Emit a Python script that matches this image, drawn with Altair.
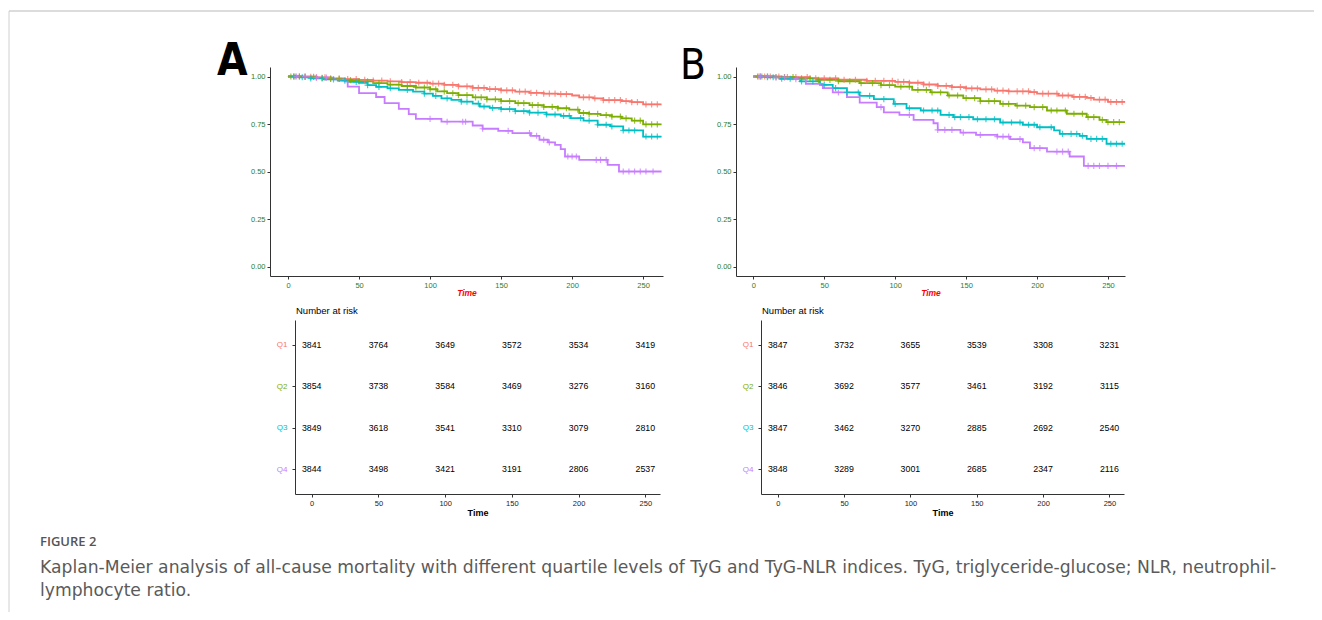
import altair as alt
import numpy as np
import pandas as pd

GROUPS = ["Q1", "Q2", "Q3", "Q4"]
COLORS = ["#F8766D", "#7CAE00", "#00BFC4", "#C77CFF"]
RISK_TIMES = [0, 50, 100, 150, 200, 250]

# ---------------- Panel A (TyG) survival steps ----------------
a_q1_t = [0, 10, 20, 30, 40, 50, 60, 70, 80, 90, 100, 110, 120, 130, 140, 150, 160, 170, 180, 190, 200, 205, 215, 222, 235, 242, 250, 263]
a_q1_s = [1.0, 0.998, 0.995, 0.99, 0.986, 0.982, 0.978, 0.974, 0.97, 0.967, 0.963, 0.956, 0.948, 0.94, 0.934, 0.927, 0.92, 0.914, 0.91, 0.907, 0.9, 0.89, 0.885, 0.876, 0.87, 0.865, 0.853, 0.853]
a_q2_t = [0, 10, 20, 30, 40, 50, 60, 70, 80, 90, 100, 105, 112, 120, 130, 140, 150, 160, 170, 180, 190, 198, 205, 212, 220, 228, 235, 242, 250, 263]
a_q2_s = [1.0, 0.998, 0.993, 0.987, 0.981, 0.974, 0.965, 0.957, 0.95, 0.942, 0.933, 0.922, 0.912, 0.902, 0.89, 0.88, 0.87, 0.86, 0.849, 0.84, 0.833, 0.826, 0.808, 0.803, 0.797, 0.789, 0.78, 0.768, 0.748, 0.748]
a_q3_t = [0, 8, 16, 25, 35, 42, 50, 56, 62, 70, 78, 88, 96, 102, 108, 115, 122, 130, 135, 142, 150, 160, 170, 182, 192, 199, 208, 218, 227, 236, 250, 263]
a_q3_s = [1.0, 0.996, 0.99, 0.985, 0.978, 0.972, 0.967, 0.955, 0.945, 0.938, 0.93, 0.92, 0.91, 0.898, 0.885, 0.877, 0.868, 0.857, 0.842, 0.835, 0.828, 0.818, 0.81, 0.8, 0.793, 0.781, 0.768, 0.746, 0.737, 0.716, 0.684, 0.684]
a_q4_t = [0, 20, 32, 40, 42, 50, 62, 68, 78, 85, 90, 108, 130, 137, 148, 158, 171, 177, 183, 188, 192, 195, 205, 225, 233, 263]
a_q4_s = [1.0, 0.994, 0.985, 0.974, 0.947, 0.912, 0.892, 0.86, 0.83, 0.802, 0.777, 0.762, 0.742, 0.725, 0.714, 0.702, 0.688, 0.667, 0.653, 0.64, 0.618, 0.579, 0.561, 0.535, 0.5, 0.5]

# censoring times (panel A)
a_q1_c = [4, 8, 12, 16, 20, 26, 30, 36, 42, 48, 54, 60, 66, 72, 80, 86, 92, 98, 102, 106, 110, 116, 120, 126, 130, 134, 138, 142, 146, 150, 154, 158, 163, 167, 171, 175, 180, 184, 188, 192, 196, 208, 212, 216, 222, 226, 230, 234, 238, 242, 246, 252, 256, 260]
a_q2_c = [2, 5, 8, 12, 18, 24, 30, 36, 44, 50, 56, 64, 72, 78, 84, 90, 96, 100, 104, 110, 116, 120, 126, 132, 136, 140, 146, 150, 156, 162, 166, 172, 176, 180, 186, 190, 196, 204, 208, 212, 218, 224, 228, 234, 238, 244, 248, 252, 256, 260]
a_q3_c = [4, 10, 16, 24, 32, 40, 48, 56, 64, 72, 84, 96, 104, 112, 122, 126, 134, 138, 144, 150, 156, 160, 166, 170, 176, 182, 188, 194, 198, 206, 212, 218, 224, 228, 236, 240, 244, 252, 256, 260]
a_q4_c = [6, 12, 20, 27, 100, 112, 123, 125, 137, 155, 170, 175, 180, 184, 197, 200, 203, 217, 220, 224, 236, 240, 244, 248, 252, 257]

# ---------------- Panel B (TyG-NLR) survival steps ----------------
b_q1_t = [0, 20, 40, 60, 80, 100, 110, 120, 130, 140, 150, 160, 170, 180, 195, 200, 215, 225, 235, 240, 250, 262]
b_q1_s = [1.0, 0.997, 0.99, 0.983, 0.977, 0.972, 0.967, 0.958, 0.951, 0.944, 0.937, 0.932, 0.926, 0.922, 0.918, 0.91, 0.9, 0.893, 0.887, 0.878, 0.866, 0.866]
b_q2_t = [0, 15, 30, 45, 60, 75, 90, 100, 112, 125, 137, 148, 160, 174, 185, 195, 207, 221, 235, 244, 249, 262]
b_q2_s = [1.0, 0.997, 0.99, 0.982, 0.975, 0.965, 0.955, 0.947, 0.93, 0.916, 0.9, 0.886, 0.87, 0.856, 0.847, 0.839, 0.821, 0.804, 0.786, 0.772, 0.76, 0.76]
b_q3_t = [0, 10, 19, 33, 47, 56, 66, 75, 85, 99, 108, 118, 132, 141, 155, 174, 190, 200, 212, 216, 230, 235, 249, 262]
b_q3_s = [1.0, 0.996, 0.988, 0.974, 0.956, 0.939, 0.916, 0.898, 0.881, 0.856, 0.833, 0.821, 0.798, 0.786, 0.775, 0.758, 0.746, 0.733, 0.716, 0.698, 0.688, 0.672, 0.646, 0.646]
b_q4_t = [0, 15, 26, 37, 49, 56, 66, 75, 87, 92, 103, 113, 127, 130, 146, 157, 172, 181, 190, 195, 207, 223, 233, 262]
b_q4_s = [1.0, 0.995, 0.986, 0.961, 0.939, 0.916, 0.891, 0.863, 0.839, 0.811, 0.798, 0.772, 0.754, 0.719, 0.705, 0.693, 0.684, 0.67, 0.653, 0.623, 0.605, 0.579, 0.53, 0.53]

b_q1_c = [4, 8, 12, 18, 24, 30, 38, 44, 50, 58, 64, 72, 80, 86, 92, 98, 102, 106, 110, 116, 120, 124, 130, 136, 140, 146, 150, 154, 158, 164, 168, 172, 176, 180, 186, 190, 194, 198, 204, 208, 214, 218, 222, 226, 230, 234, 238, 244, 248, 252, 256, 260]
b_q2_c = [3, 6, 10, 16, 22, 28, 34, 40, 46, 54, 60, 68, 76, 84, 90, 96, 104, 110, 116, 122, 126, 132, 138, 144, 150, 156, 160, 166, 170, 176, 180, 186, 192, 198, 204, 210, 214, 220, 226, 232, 236, 240, 246, 250, 254, 258]
b_q3_c = [5, 10, 14, 20, 26, 34, 42, 50, 58, 66, 74, 82, 92, 100, 110, 120, 126, 130, 138, 142, 146, 152, 158, 164, 170, 176, 182, 188, 194, 198, 202, 210, 218, 224, 228, 232, 238, 242, 246, 252, 256, 260]
b_q4_c = [5, 10, 16, 22, 30, 60, 90, 110, 130, 135, 140, 148, 160, 172, 176, 180, 188, 198, 202, 214, 218, 222, 236, 240, 244, 250, 256]

# ---------------- Numbers at risk ----------------
risk_a = {
    "Q1": [3841, 3764, 3649, 3572, 3534, 3419],
    "Q2": [3854, 3738, 3584, 3469, 3276, 3160],
    "Q3": [3849, 3618, 3541, 3310, 3079, 2810],
    "Q4": [3844, 3498, 3421, 3191, 2806, 2537],
}
risk_b = {
    "Q1": [3847, 3732, 3655, 3539, 3308, 3231],
    "Q2": [3846, 3692, 3577, 3461, 3192, 3115],
    "Q3": [3847, 3462, 3270, 2885, 2692, 2540],
    "Q4": [3848, 3289, 3001, 2685, 2347, 2116],
}

CAPTION_HEAD = "FIGURE 2"
CAPTION_1 = "Kaplan-Meier analysis of all-cause mortality with different quartile levels of TyG and TyG-NLR indices. TyG, triglyceride-glucose; NLR, neutrophil-"
CAPTION_2 = "lymphocyte ratio."

# ---------------- build tables ----------------
def curves(specs):
    frames = []
    for g, t, s in specs:
        frames.append(pd.DataFrame({"time": t, "surv": s, "group": g}))
    return pd.concat(frames, ignore_index=True)


def censors(specs):
    frames = []
    for g, t, s, c in specs:
        t_arr = np.array(t)
        s_arr = np.array(s)
        idx = np.searchsorted(t_arr, np.array(c), side="right") - 1
        frames.append(pd.DataFrame({"time": c, "surv": s_arr[idx], "group": g}))
    return pd.concat(frames, ignore_index=True)


def risk_table(d):
    rows = []
    for g in GROUPS:
        for t, n in zip(RISK_TIMES, d[g]):
            rows.append({"time": t, "group": g, "n": n})
    return pd.DataFrame(rows)


lines_a = curves([("Q1", a_q1_t, a_q1_s), ("Q2", a_q2_t, a_q2_s), ("Q3", a_q3_t, a_q3_s), ("Q4", a_q4_t, a_q4_s)])
cens_a = censors([("Q1", a_q1_t, a_q1_s, a_q1_c), ("Q2", a_q2_t, a_q2_s, a_q2_c), ("Q3", a_q3_t, a_q3_s, a_q3_c), ("Q4", a_q4_t, a_q4_s, a_q4_c)])
lines_b = curves([("Q1", b_q1_t, b_q1_s), ("Q2", b_q2_t, b_q2_s), ("Q3", b_q3_t, b_q3_s), ("Q4", b_q4_t, b_q4_s)])
cens_b = censors([("Q1", b_q1_t, b_q1_s, b_q1_c), ("Q2", b_q2_t, b_q2_s, b_q2_c), ("Q3", b_q3_t, b_q3_s, b_q3_c), ("Q4", b_q4_t, b_q4_s, b_q4_c)])

W, H = 1306, 604
FONT = "Liberation Sans"
GREEN = "#2a7d2a"
PLUS = "M-1,0L1,0M0,-1L0,1"
color_scale = alt.Scale(domain=GROUPS, range=COLORS)

label_color = {
    "condition": [
        {"test": "datum.value === 'Q1'", "value": COLORS[0]},
        {"test": "datum.value === 'Q2'", "value": COLORS[1]},
        {"test": "datum.value === 'Q3'", "value": COLORS[2]},
    ],
    "value": COLORS[3],
}


def km_layers(lines_df, cens_df, xrange, xdom):
    xs = alt.Scale(domain=xdom, range=xrange, nice=False, zero=False)
    ys = alt.Scale(domain=[-0.05, 1.05], range=[268, 59], nice=False, zero=False)
    xaxis = alt.Axis(orient="bottom", offset=268 - H, values=RISK_TIMES, title="Time",
                     labelColor=GREEN, labelFontSize=7.5, labelPadding=2, titleColor="#ff0000",
                     titleFontStyle="italic", titleFontWeight="bold", titleFontSize=8.5, titlePadding=0)
    yaxis = alt.Axis(orient="left", offset=-xrange[0], values=[0, 0.25, 0.5, 0.75, 1.0], format=".2f",
                     title=None, labelColor=GREEN, labelFontSize=7.5, labelPadding=2)
    line = alt.Chart(lines_df).mark_line(interpolate="step-after", strokeWidth=1.8).encode(
        x=alt.X("time:Q", scale=xs, axis=xaxis),
        y=alt.Y("surv:Q", scale=ys, axis=yaxis),
        color=alt.Color("group:N", scale=color_scale, legend=None),
    )
    cens = alt.Chart(cens_df).mark_point(shape=PLUS, size=38, strokeWidth=1.2, opacity=0.75, filled=False).encode(
        x=alt.X("time:Q", scale=xs, axis=None),
        y=alt.Y("surv:Q", scale=ys, axis=None),
        color=alt.Color("group:N", scale=color_scale, legend=None),
    )
    return [line, cens]


def risk_layer(df, xrange, xdom):
    xs = alt.Scale(domain=xdom, range=xrange, nice=False, zero=False)
    ys = alt.Scale(type="point", domain=GROUPS, range=[312, 486], padding=0.6)
    xaxis = alt.Axis(orient="bottom", offset=486 - H, values=RISK_TIMES, title="Time",
                     labelColor="#222222", labelFontSize=7.5, labelPadding=2, titleColor="#000000",
                     titleFontSize=9, titlePadding=2)
    yaxis = alt.Axis(orient="left", offset=-xrange[0], title="Number at risk", titleAngle=0,
                     titleX=0.5, titleY=302.7, titleAlign="left", titleBaseline="middle",
                     titleFontSize=9.5, titleFontWeight="normal", titleColor="#000000",
                     labelColor=label_color, labelFontSize=8, labelPadding=5)
    return alt.Chart(df).mark_text(fontSize=8.8, font=FONT, color="#000000").encode(
        x=alt.X("time:Q", scale=xs, axis=xaxis),
        y=alt.Y("group:N", scale=ys, axis=yaxis),
        text=alt.Text("n:Q"),
    )


def label(text, x, y, size, weight="normal", color="#000000", font=FONT, align="left"):
    return alt.Chart(alt.Data(values=[{"t": text}])).mark_text(
        fontSize=size, fontWeight=weight, color=color, font=font, align=align, baseline="middle"
    ).encode(x=alt.value(x), y=alt.value(y), text="t:N")


one = alt.Data(values=[{"k": 1}])
frame_top = alt.Chart(one).mark_rule(color="#d0d0d0", strokeWidth=1.5).encode(
    x=alt.value(1), x2=alt.value(W), y=alt.value(3))
frame_left = alt.Chart(one).mark_rule(color="#d0d0d0", strokeWidth=1).encode(
    x=alt.value(1), y=alt.value(3), y2=alt.value(H))

layers = [frame_top, frame_left]
layers += km_layers(lines_a, cens_a, [262, 655], [-12.7, 264])
layers += km_layers(lines_b, cens_b, [728, 1117], [-12.2, 262])
layers.append(risk_layer(risk_table(risk_a), [287, 652], [-12.5, 261]))
layers.append(risk_layer(risk_table(risk_b), [753, 1116], [-12.6, 261]))
layers.append(label("A", 209, 54, 44, weight="bold", font="Liberation Sans Narrow, DejaVu Sans Condensed, Liberation Sans"))
layers.append(label("B", 672, 58, 42, weight="normal", font="Liberation Sans Narrow, DejaVu Sans Condensed, Liberation Sans"))
layers.append(label(CAPTION_HEAD, 32, 534, 13, weight=600, color="#555555", font="Open Sans"))
layers.append(label(CAPTION_1, 32, 560, 17.2, color="#5a5a5a", font="DejaVu Sans"))
layers.append(label(CAPTION_2, 32, 583, 17.2, color="#5a5a5a", font="DejaVu Sans"))

chart = alt.layer(*layers).resolve_scale(
    x="independent", y="independent", color="independent"
).properties(
    width=W, height=H, padding=0, autosize=alt.AutoSizeParams(type="none")
).configure_view(strokeWidth=0).configure_axis(
    grid=False, domainColor="#333333", tickColor="#333333", tickSize=3, domainWidth=1,
    labelFont=FONT, titleFont=FONT, labelOverlap=False, labelFlush=False
)

chart.save("out.html", embed_options={"renderer": "svg", "actions": False})
